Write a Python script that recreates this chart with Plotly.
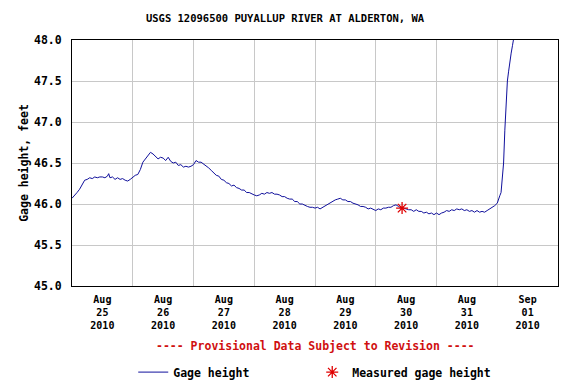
import plotly.graph_objects as go

# Gage height readings (time, feet)
times = [
    "2010-08-25 00:00", "2010-08-25 01:00", "2010-08-25 02:00", "2010-08-25 03:00",
    "2010-08-25 04:00", "2010-08-25 05:00", "2010-08-25 06:00", "2010-08-25 07:00",
    "2010-08-25 08:00", "2010-08-25 09:00", "2010-08-25 10:00", "2010-08-25 11:00",
    "2010-08-25 12:00", "2010-08-25 13:00", "2010-08-25 14:00", "2010-08-25 14:30",
    "2010-08-25 15:00", "2010-08-25 16:00", "2010-08-25 17:00", "2010-08-25 18:00",
    "2010-08-25 19:00", "2010-08-25 20:00", "2010-08-25 21:00", "2010-08-25 22:00",
    "2010-08-25 23:00",
    "2010-08-26 00:00", "2010-08-26 01:00", "2010-08-26 02:00", "2010-08-26 03:00",
    "2010-08-26 04:00", "2010-08-26 05:00", "2010-08-26 06:00", "2010-08-26 07:00",
    "2010-08-26 08:00", "2010-08-26 09:00", "2010-08-26 10:00", "2010-08-26 11:00",
    "2010-08-26 12:00", "2010-08-26 13:00", "2010-08-26 14:00", "2010-08-26 15:00",
    "2010-08-26 16:00", "2010-08-26 17:00", "2010-08-26 18:00", "2010-08-26 19:00",
    "2010-08-26 20:00", "2010-08-26 21:00", "2010-08-26 22:00", "2010-08-26 23:00",
    "2010-08-27 00:00", "2010-08-27 01:00", "2010-08-27 02:00", "2010-08-27 03:00",
    "2010-08-27 04:00", "2010-08-27 05:00", "2010-08-27 06:00", "2010-08-27 07:00",
    "2010-08-27 08:00", "2010-08-27 09:00", "2010-08-27 10:00", "2010-08-27 11:00",
    "2010-08-27 12:00", "2010-08-27 13:00", "2010-08-27 14:00", "2010-08-27 15:00",
    "2010-08-27 16:00", "2010-08-27 17:00", "2010-08-27 18:00", "2010-08-27 19:00",
    "2010-08-27 20:00", "2010-08-27 21:00", "2010-08-27 22:00", "2010-08-27 23:00",
    "2010-08-28 00:00", "2010-08-28 01:00", "2010-08-28 02:00", "2010-08-28 03:00",
    "2010-08-28 04:00", "2010-08-28 05:00", "2010-08-28 06:00", "2010-08-28 07:00",
    "2010-08-28 08:00", "2010-08-28 09:00", "2010-08-28 10:00", "2010-08-28 11:00",
    "2010-08-28 12:00", "2010-08-28 13:00", "2010-08-28 14:00", "2010-08-28 15:00",
    "2010-08-28 16:00", "2010-08-28 17:00", "2010-08-28 18:00", "2010-08-28 19:00",
    "2010-08-28 20:00", "2010-08-28 21:00", "2010-08-28 22:00", "2010-08-28 23:00",
    "2010-08-29 00:00", "2010-08-29 01:00", "2010-08-29 02:00", "2010-08-29 03:00",
    "2010-08-29 04:00", "2010-08-29 05:00", "2010-08-29 06:00", "2010-08-29 07:00",
    "2010-08-29 08:00", "2010-08-29 09:00", "2010-08-29 10:00", "2010-08-29 11:00",
    "2010-08-29 12:00", "2010-08-29 13:00", "2010-08-29 14:00", "2010-08-29 15:00",
    "2010-08-29 16:00", "2010-08-29 17:00", "2010-08-29 18:00", "2010-08-29 19:00",
    "2010-08-29 20:00", "2010-08-29 21:00", "2010-08-29 22:00", "2010-08-29 23:00",
    "2010-08-30 00:00", "2010-08-30 01:00", "2010-08-30 02:00", "2010-08-30 03:00",
    "2010-08-30 04:00", "2010-08-30 05:00", "2010-08-30 06:00", "2010-08-30 07:00",
    "2010-08-30 08:00", "2010-08-30 09:00", "2010-08-30 10:00", "2010-08-30 11:00",
    "2010-08-30 12:00", "2010-08-30 13:00", "2010-08-30 14:00", "2010-08-30 15:00",
    "2010-08-30 16:00", "2010-08-30 17:00", "2010-08-30 18:00", "2010-08-30 19:00",
    "2010-08-30 20:00", "2010-08-30 21:00", "2010-08-30 22:00", "2010-08-30 23:00",
    "2010-08-31 00:00", "2010-08-31 01:00", "2010-08-31 02:00", "2010-08-31 03:00",
    "2010-08-31 04:00", "2010-08-31 05:00", "2010-08-31 06:00", "2010-08-31 07:00",
    "2010-08-31 08:00", "2010-08-31 09:00", "2010-08-31 10:00", "2010-08-31 11:00",
    "2010-08-31 12:00", "2010-08-31 13:00", "2010-08-31 14:00", "2010-08-31 15:00",
    "2010-08-31 16:00", "2010-08-31 17:00", "2010-08-31 18:00", "2010-08-31 19:00",
    "2010-08-31 20:00", "2010-08-31 21:00", "2010-08-31 22:00", "2010-08-31 23:00",
    "2010-09-01 00:00", "2010-09-01 00:30", "2010-09-01 01:00", "2010-09-01 01:30",
    "2010-09-01 02:00", "2010-09-01 02:30", "2010-09-01 03:00", "2010-09-01 03:30",
    "2010-09-01 04:00", "2010-09-01 04:30", "2010-09-01 05:00", "2010-09-01 05:30",
    "2010-09-01 06:00", "2010-09-01 06:30",
]
gage_height = [
    46.07, 46.10, 46.14, 46.18, 46.24, 46.29, 46.30, 46.32, 46.31, 46.33, 46.32, 46.33,
    46.33, 46.32, 46.34, 46.37, 46.32, 46.33, 46.30, 46.32, 46.30, 46.31, 46.29, 46.28,
    46.30,
    46.33, 46.35, 46.36, 46.42, 46.51, 46.55, 46.60, 46.63, 46.61, 46.58, 46.55, 46.57,
    46.56, 46.53, 46.57, 46.52, 46.50, 46.51, 46.47, 46.48, 46.45, 46.46, 46.45, 46.46,
    # Aug 27
    46.48, 46.53, 46.51, 46.51, 46.49, 46.47, 46.44, 46.41, 46.38, 46.35, 46.34, 46.30,
    46.29, 46.26, 46.25, 46.22, 46.23, 46.20, 46.19, 46.17, 46.17, 46.14, 46.14, 46.12,
    # Aug 28
    46.11, 46.10, 46.11, 46.13, 46.12, 46.14, 46.13, 46.14, 46.12, 46.12, 46.11, 46.09,
    46.09, 46.07, 46.06, 46.06, 46.03, 46.03, 46.00, 46.00, 45.98, 45.97, 45.96, 45.96,
    # Aug 29
    45.95, 45.96, 45.94, 45.96, 45.97, 46.00, 46.02, 46.03, 46.05, 46.06, 46.07, 46.05,
    46.05, 46.03, 46.03, 46.01, 46.00, 45.99, 45.97, 45.97, 45.96, 45.94, 45.95, 45.93,
    # Aug 30
    45.92, 45.94, 45.93, 45.95, 45.95, 45.96, 45.96, 45.98, 45.99, 45.97, 45.95, 45.95,
    45.94, 45.93, 45.93, 45.91, 45.93, 45.91, 45.91, 45.89, 45.90, 45.88, 45.89, 45.87,
    # Aug 31
    45.89, 45.87, 45.89, 45.90, 45.92, 45.91, 45.93, 45.92, 45.94, 45.93, 45.94, 45.92,
    45.93, 45.91, 45.92, 45.90, 45.92, 45.90, 45.91, 45.90, 45.92, 45.94, 45.95, 45.98,
    # Sep 01
    46.01, 46.07, 46.10, 46.14, 46.28, 46.50, 46.90, 47.31, 47.50, 47.62, 47.75, 47.84,
    47.93, 48.02,
]

# Field measurement
measured_times = ["2010-08-30 10:24"]
measured_height = [45.95]

y_ticks = [45.0, 45.5, 46.0, 46.5, 47.0, 47.5, 48.0]
x_range = ["2010-08-25 00:00", "2010-09-02 00:00"]

title_text = "USGS 12096500 PUYALLUP RIVER AT ALDERTON, WA"
y_title = "Gage height, feet"
note_text = "---- Provisional Data Subject to Revision ----"

MONO = "DejaVu Sans Mono"
# The page body adds an 8px margin, so the figure is sized to fit the window.
W, H = 568, 376

fig = go.Figure()
fig.add_trace(go.Scatter(
    x=times, y=gage_height, mode="lines", name="Gage height",
    line=dict(color="#10109c", width=1),
))
fig.add_trace(go.Scatter(
    x=measured_times, y=measured_height, mode="markers", name="Measured gage height",
    marker=dict(symbol="asterisk-open", size=10, color="#e00000",
                line=dict(color="#e00000", width=1.3)),
))

fig.update_layout(
    width=W, height=H,
    margin=dict(l=64, r=18, t=32, b=98, autoexpand=False),
    paper_bgcolor="white", plot_bgcolor="white",
    title=dict(text=title_text, x=277 / W, xanchor="center", y=1 - 10 / H,
               yanchor="middle",
               font=dict(family=MONO, size=10.5, color="black", weight="bold")),
    showlegend=True,
    legend=dict(orientation="h", x=0.126, xanchor="left", y=-0.35, yanchor="middle",
                font=dict(family=MONO, size=11.5, color="black", weight="bold"),
                entrywidth=134, itemwidth=30, bgcolor="rgba(0,0,0,0)"),
    annotations=[dict(text=note_text, xref="paper", yref="paper", x=0.5, y=-0.244,
                      xanchor="center", yanchor="middle", showarrow=False,
                      font=dict(family=MONO, size=11.5, color="#d01010", weight="bold"))],
)
fig.update_xaxes(
    type="date", range=x_range, dtick=86400000, tick0="2010-08-25",
    ticklabelmode="period", tickformat="%b<br>%d<br>%Y",
    showgrid=True, gridcolor="#c8c8c8", gridwidth=1,
    showline=True, linecolor="black", linewidth=1, mirror=True,
    ticks="", ticklabelstandoff=4, automargin=False,
    tickfont=dict(family=MONO, size=10, color="black", weight="bold"),
    zeroline=False,
)
fig.update_yaxes(
    range=[45.0, 48.0], tickvals=y_ticks, tickformat=".1f",
    showgrid=True, gridcolor="#c8c8c8", gridwidth=1,
    showline=True, linecolor="black", linewidth=1, mirror=True,
    ticks="", ticklabelstandoff=7, automargin=False,
    tickfont=dict(family=MONO, size=11.5, color="black", weight="bold"),
    title=dict(text=y_title, standoff=2,
               font=dict(family=MONO, size=11.5, color="black", weight="bold")),
    zeroline=False,
)

fig.write_html("out.html")
